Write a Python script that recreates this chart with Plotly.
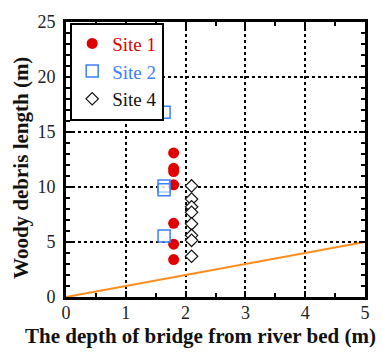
import plotly.graph_objects as go

# Woody debris length versus bridge clearance above the river bed
site1_depth = [1.8, 1.8, 1.8, 1.8, 1.8, 1.8, 1.8]
site1_length = [13.1, 11.7, 11.4, 10.2, 6.7, 4.8, 3.4]

site2_depth = [1.64, 1.64, 1.64, 1.64]
site2_length = [16.8, 10.1, 9.75, 5.55]

site4_depth = [2.1, 2.1, 2.1, 2.1, 2.1, 2.1, 2.1, 2.1]
site4_length = [10.1, 8.9, 8.2, 7.7, 6.65, 5.6, 5.15, 3.7]

# 1:1 reference line
ref_x = [0, 5]
ref_y = [0, 5]

x_ticks = [0, 1, 2, 3, 4, 5]
y_ticks = [0, 5, 10, 15, 20, 25]

SERIF = "'Liberation Serif', 'Times New Roman', serif"
RED = "#e00000"
BLUE = "#3a80ff"
ORANGE = "#ff8c1a"

fig = go.Figure()

fig.add_trace(go.Scatter(
    x=ref_x, y=ref_y, mode="lines",
    line=dict(color=ORANGE, width=2),
    showlegend=False, hoverinfo="skip",
))
fig.add_trace(go.Scatter(
    x=site1_depth, y=site1_length, mode="markers",
    name=f"<span style='color:{RED}'>Site 1</span>",
    marker=dict(symbol="circle", size=11, color=RED, line=dict(width=0)),
))
fig.add_trace(go.Scatter(
    x=site2_depth, y=site2_length, mode="markers",
    name=f"<span style='color:{BLUE}'>Site 2</span>",
    marker=dict(symbol="square", size=12, color="rgba(255,255,255,0.6)",
                line=dict(color=BLUE, width=1.5)),
))
fig.add_trace(go.Scatter(
    x=site4_depth, y=site4_length, mode="markers",
    name="<span style='color:#111'>Site 4</span>",
    marker=dict(symbol="diamond", size=9.5, color="white",
                line=dict(color="#111", width=1.2)),
))

axis_common = dict(
    showline=True, linecolor="black", linewidth=3, mirror="ticks",
    ticks="inside", ticklen=6, tickwidth=2, tickcolor="black",
    showgrid=True, gridcolor="black", gridwidth=2, griddash="dot",
    zeroline=False,
    tickfont=dict(family=SERIF, size=18, color="#222"),
)

fig.update_xaxes(
    range=[0, 5], tickvals=x_ticks,
    minor=dict(dtick=0.5, ticks="inside", ticklen=4, tickwidth=2,
               tickcolor="black", showgrid=False),
    ticklabelstandoff=-3,
    **axis_common,
)
fig.update_yaxes(
    range=[0, 25], tickvals=y_ticks,
    minor=dict(dtick=1, ticks="inside", ticklen=4, tickwidth=2,
               tickcolor="black", showgrid=False),
    ticklabelstandoff=4,
    **axis_common,
)

fig.add_annotation(
    text="<b>The depth of bridge from river bed (m)</b>",
    xref="paper", yref="paper", x=0.45, y=-0.142,
    xanchor="center", yanchor="middle", showarrow=False,
    font=dict(family=SERIF, size=21, color="#111"),
)
fig.add_annotation(
    text="<b>Woody debris length (m)</b>",
    xref="paper", yref="paper", x=-0.15, y=0.47,
    xanchor="center", yanchor="middle", textangle=-90, showarrow=False,
    font=dict(family=SERIF, size=21, color="#111"),
)

fig.update_layout(
    width=382, height=354,
    margin=dict(l=66, r=12, t=20, b=57),
    paper_bgcolor="white", plot_bgcolor="white",
    font=dict(family=SERIF),
    legend=dict(
        x=0.014, y=0.998, xanchor="left", yanchor="top",
        bgcolor="white", bordercolor="black", borderwidth=2,
        font=dict(family=SERIF, size=19),
        tracegroupgap=0,
    ),
)

fig.write_html("out.html")
